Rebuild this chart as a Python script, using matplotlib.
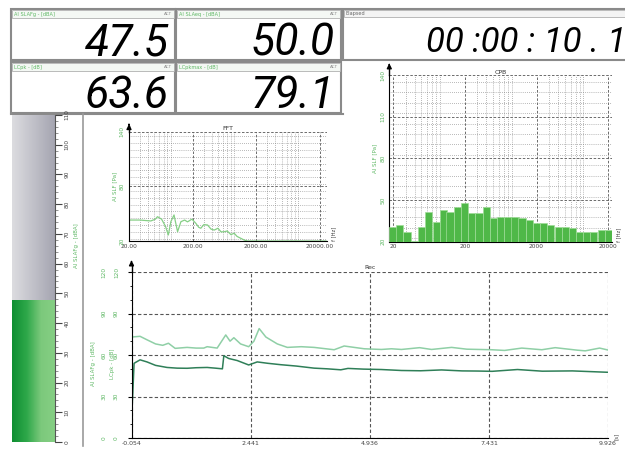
import numpy as np
import matplotlib.pyplot as plt
from matplotlib.colors import LinearSegmentedColormap
from matplotlib.patches import Rectangle
from matplotlib.ticker import MultipleLocator, LogLocator, NullFormatter

W, H = 625, 451

# meter readouts
meter_names = ['Al SLAFg - [dBA]', 'Al SLAeq - [dBA]', 'LCpk - [dB]', 'LCpkmax - [dB]']
meter_values = ['47.5', '50.0', '63.6', '79.1']
elapsed_label = 'Elapsed'
elapsed_value = '00 :00 : 10 . 1'
bar_level = 47.5

# time history (s, dB)
t_laf = [-0.054, -0.03, 0.0, 0.125, 0.27, 0.45, 0.69, 0.9, 1.11, 1.3, 1.53, 1.70, 1.85,
         1.88, 1.98, 2.16, 2.40, 2.58, 2.80, 3.07, 3.40, 3.77, 4.05, 4.33, 4.48, 4.80,
         5.18, 5.60, 6.00, 6.44, 6.87, 7.20, 7.50, 8.03, 8.55, 9.18, 9.926]
laf = [14, 30, 54, 56.5, 55, 52.5, 51, 50.5, 50.4, 50.8, 51, 50.5, 50,
       59.5, 57.5, 56, 52.8, 55, 54, 53, 52, 50.5, 50, 49.3, 50.3, 49.8,
       49.5, 48.8, 48.6, 49.2, 48.5, 48.4, 48.2, 49.5, 48.3, 48.5, 47.5]

t_lcpk = [-0.054, 0.125, 0.27, 0.45, 0.60, 0.72, 0.86, 1.11, 1.30, 1.46, 1.53, 1.74,
          1.92, 2.01, 2.09, 2.23, 2.40, 2.51, 2.62, 2.76, 3.00, 3.21, 3.50, 3.77, 4.19,
          4.40, 4.61, 4.82, 5.18, 5.39, 5.60, 5.98, 6.23, 6.65, 6.97, 7.49, 7.76, 8.12,
          8.54, 8.82, 9.28, 9.45, 9.75, 9.926]
lcpk = [73, 73.5, 71, 68, 67, 68.5, 64.8, 65.5, 65, 65, 66, 65,
        74.5, 70, 72.5, 68, 66, 70, 79.1, 73, 68, 65.5, 66, 65.5, 63.8,
        66.5, 65.5, 64.5, 64, 64.5, 64, 65.3, 64, 65.5, 64.2, 63.8, 63.3, 65,
        63.8, 65.3, 63.5, 63, 65, 63.6]
time_ticks = [-0.054, 2.441, 4.936, 7.431, 9.926]

# FFT spectrum
fft_freq = [21, 30, 44, 52, 56, 65, 75, 83, 91, 102, 116, 131, 150, 166, 195, 224, 250,
            269, 300, 343, 390, 438, 500, 560, 630, 700, 800, 900, 1000, 1140, 1300,
            1450, 2000, 5000, 25000]
fft_level = [43, 43, 42, 44, 46.7, 44, 36, 26.6, 41.2, 48.6, 30.2, 41.2, 43, 41, 44, 39.5,
             35, 34, 38, 37.6, 33, 32, 34, 30, 30.2, 31, 27, 28.5, 25, 23, 21,
             20, 20, 20, 20]

# 1/3 octave bands
cpb_freq = [20, 25, 31.5, 40, 50, 63, 80, 100, 125, 160, 200, 250, 315, 400, 500, 630,
            800, 1000, 1250, 1600, 2000, 2500, 3150, 4000, 5000, 6300, 8000, 10000,
            12500, 16000, 20000]
cpb_level = [30.8, 32, 27.2, 20.5, 30.8, 41.6, 34.4, 42.8, 41.6, 45.2, 48, 40.4, 40.4,
             45.2, 36.8, 38, 38, 38, 36.8, 35.6, 33.2, 33.2, 32, 30.8, 30.8, 29.6,
             27.2, 27.2, 27.2, 28.4, 28.4]

GREEN_TXT = '#5fb865'
GRID = '#555555'
DIGIT_FONT = dict(family=['Roboto', 'DejaVu Sans'], weight='normal', style='italic')


def rect(x0, y0, x1, y1):
    return [x0 / W, 1 - y1 / H, (x1 - x0) / W, (y1 - y0) / H]


def arrow_axis(ax, top=1.07):
    ax.plot([0, 0], [1, top - 0.02], transform=ax.transAxes, color='k', lw=1, clip_on=False)
    ax.annotate('', xy=(0, top), xycoords='axes fraction', xytext=(0, top - 0.03),
                arrowprops=dict(arrowstyle='-|>', color='k', lw=1, mutation_scale=7))


fig = plt.figure(figsize=(6.25, 4.51), dpi=100)
fig.patch.set_facecolor('white')

# screen layout background
bg = fig.add_axes([0, 0, 1, 1])
bg.set_xlim(0, W)
bg.set_ylim(H, 0)
bg.axis('off')

boxes = [(11, 9, 175, 60), (176, 9, 341, 60), (11, 62, 175, 113), (176, 62, 341, 113)]
for (x0, y0, x1, y1), name, val in zip(boxes, meter_names, meter_values):
    bg.add_patch(Rectangle((x0, y0), x1 - x0, y1 - y0, fc='white', ec='#8a8a8a', lw=1.5))
    bg.add_patch(Rectangle((x0 + 1, y0 + 1), x1 - x0 - 2, 8, fc='#f4f8f4', ec='#b0b0b0', lw=0.6))
    bg.text(x0 + 3, y0 + 5.5, name, fontsize=3.6, color=GREEN_TXT, va='center')
    bg.text(x1 - 3, y0 + 5, 'ACT', fontsize=3, color='#888888', va='center', ha='right')
    bg.text(x1 - 6, y1 - 5, val, fontsize=32, color='black', ha='right', va='baseline',
            **DIGIT_FONT)

bg.add_patch(Rectangle((343, 9), 290, 51, fc='white', ec='#8a8a8a', lw=1.5))
bg.add_patch(Rectangle((344, 10), 290, 7, fc='#f4f4f4', ec='#b0b0b0', lw=0.6))
bg.text(346, 13.5, elapsed_label, fontsize=3.6, color='#666666', va='center')
bg.text(626, 52, elapsed_value, fontsize=25, color='black', ha='right', va='baseline',
        **DIGIT_FONT)

bg.plot([11, 343], [114, 114], color='#8a8a8a', lw=1.5)
bg.plot([83, 83], [114, 446], color='#9a9a9a', lw=1.2)

# level bar
axb = fig.add_axes(rect(11.7, 115, 55, 442))
axb.set_xlim(0, 1)
axb.set_ylim(0, 110)
ramp = np.linspace(0, 1, 64)[None, :]
axb.imshow(ramp, extent=(0, 1, bar_level, 110), aspect='auto',
           cmap=LinearSegmentedColormap.from_list('g', ['#dcdce0', '#a4a4b0']))
axb.imshow(ramp, extent=(0, 1, 0, bar_level), aspect='auto',
           cmap=LinearSegmentedColormap.from_list('gr', ['#0f8f32', '#2ea84a', '#7cc97c', '#86cf84']))
for s in ['left', 'top', 'bottom']:
    axb.spines[s].set_visible(False)
axb.spines['right'].set_color('#555555')
axb.set_xticks([])
axb.yaxis.tick_right()
axb.yaxis.set_major_locator(MultipleLocator(10))
axb.yaxis.set_minor_locator(MultipleLocator(2))
axb.tick_params(axis='y', which='major', length=5, width=0.8, labelsize=4.2,
                labelrotation=90, colors='#444444', pad=2)
axb.tick_params(axis='y', which='minor', length=2.5, width=0.5, colors='#666666')
for lab in axb.get_yticklabels():
    lab.set_va('center')
axb.text(1.5, 0.6, 'Al SLAFg - [dBA]', transform=axb.transAxes, rotation=90,
         fontsize=4, color=GREEN_TXT, ha='center', va='center')

# FFT
axf = fig.add_axes(rect(129, 131.7, 327, 241))
axf.set_xscale('log')
axf.plot(fft_freq, fft_level, color='#86cf86', lw=0.9)
axf.set_xlim(20, 25900)
axf.set_ylim(20, 140)
axf.set_xticks([20, 200, 2000, 20000], ['20.00', '200.00', '2000.00', '20000.00'])
axf.xaxis.set_minor_locator(LogLocator(subs=np.arange(2, 10)))
axf.xaxis.set_minor_formatter(NullFormatter())
axf.set_yticks([20, 80, 140])
axf.yaxis.set_minor_locator(MultipleLocator(7.5))
axf.set_title('FFT', fontsize=4.5, pad=1, color='#333333')
axf.set_ylabel('Al SLF [Pa]', fontsize=4, color=GREEN_TXT, labelpad=2)
axf.text(1.02, 0.0, 'f [Hz]', transform=axf.transAxes, rotation=90, fontsize=3.8,
         color='#444444', va='bottom')

# CPB
axc = fig.add_axes(rect(389.3, 75, 612, 241.7))
axc.set_xscale('log')
fc = np.array(cpb_freq)
lo = fc / 2 ** (1 / 6)
hi = fc * 2 ** (1 / 6)
axc.bar(lo, np.array(cpb_level) - 20, width=hi - lo, bottom=20, align='edge',
        color='#4fb848', edgecolor='#9fdc98', lw=0.5, zorder=3)
axc.set_xlim(lo[0], hi[-1])
axc.set_ylim(20, 140)
axc.set_xticks([20, 200, 2000, 20000], ['20', '200', '2000', '20000'])
axc.xaxis.set_minor_locator(LogLocator(subs=np.arange(2, 10)))
axc.xaxis.set_minor_formatter(NullFormatter())
axc.set_yticks([20, 50, 80, 110, 140])
axc.yaxis.set_minor_locator(MultipleLocator(7.5))
axc.set_title('CPB', fontsize=4.5, pad=1, color='#333333')
axc.set_ylabel('Al SLF [Pa]', fontsize=4, color=GREEN_TXT, labelpad=2)
axc.text(1.02, 0.0, 'f [Hz]', transform=axc.transAxes, rotation=90, fontsize=3.8,
         color='#444444', va='bottom')

for ax in (axf, axc):
    ax.grid(True, which='major', ls=(0, (3, 2)), color=GRID, lw=0.6)
    ax.grid(True, which='minor', ls=(0, (1, 2)), color='#777777', lw=0.5)
    ax.set_axisbelow(True)
    for s in ['top', 'right']:
        ax.spines[s].set_visible(False)
    ax.tick_params(axis='x', which='both', length=0, labelsize=4.2, colors='#444444', pad=2)
    ax.tick_params(axis='y', which='both', length=0, labelsize=4.2, labelcolor=GREEN_TXT,
                   labelrotation=90, pad=3)
    for lab in ax.get_yticklabels():
        lab.set_va('center')
    arrow_axis(ax, 1.07)

# time history
axt = fig.add_axes(rect(131.5, 272, 608, 438))
axt.plot(t_lcpk, lcpk, color='#8fcfa6', lw=1.1)
axt.plot(t_laf, laf, color='#2f7f58', lw=1.1)
axt.set_xlim(time_ticks[0], time_ticks[-1])
axt.set_ylim(0, 120)
axt.set_xticks(time_ticks, [f'{t:.3f}' for t in time_ticks])
axt.set_yticks([0, 30, 60, 90, 120])
axt.yaxis.set_minor_locator(MultipleLocator(10))
axt.grid(True, which='major', ls=(0, (3, 2)), color=GRID, lw=0.8)
for s in ['top', 'right']:
    axt.spines[s].set_visible(False)
axt.tick_params(axis='x', length=0, labelsize=4.5, colors='#444444', pad=2)
axt.tick_params(axis='y', which='major', length=3, labelsize=4.2, labelcolor=GREEN_TXT,
                labelrotation=90, pad=6)
axt.tick_params(axis='y', which='minor', length=1.5)
for lab in axt.get_yticklabels():
    lab.set_va('center')
sec = axt.secondary_yaxis('left')
sec.set_yticks([0, 30, 60, 90, 120])
sec.spines['left'].set_visible(False)
sec.tick_params(axis='y', length=0, labelsize=4.2, labelcolor=GREEN_TXT, labelrotation=90, pad=18)
for lab in sec.get_yticklabels():
    lab.set_va('center')
axt.text(-0.039, 0.45, 'LCpk - [dB]', transform=axt.transAxes, rotation=90,
         fontsize=4, color=GREEN_TXT, ha='center', va='center')
axt.text(-0.08, 0.45, 'Al SLAFg - [dBA]', transform=axt.transAxes, rotation=90,
         fontsize=4, color=GREEN_TXT, ha='center', va='center')
axt.set_title('Rec', fontsize=4.5, pad=2, color='#333333')
axt.text(1.012, -0.01, '[s]', transform=axt.transAxes, rotation=90, fontsize=4,
         color='#444444', va='bottom')
arrow_axis(axt, 1.07)

fig.savefig('out.png', dpi=100, facecolor='white')
